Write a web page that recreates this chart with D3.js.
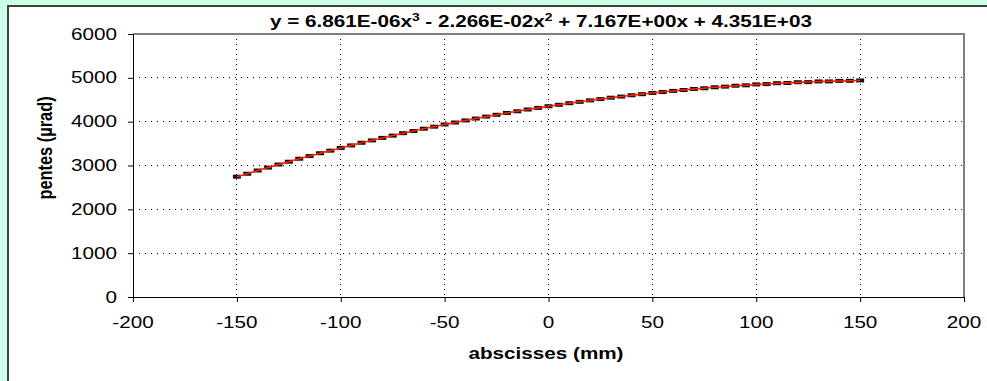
<!DOCTYPE html>
<meta charset="utf-8">
<style>

html, body {
  margin: 0;
  overflow: hidden;
  background: #ccffe6;
}

svg {
  position: absolute;
  left: 0;
  top: 0;
  display: block;
  font-family: "Liberation Sans", Arial, sans-serif;
}

.grid line {
  stroke: #000;
  stroke-width: 1px;
  shape-rendering: crispEdges;
}

.tick-label {
  font-size: 16.4px;
  fill: #000;
}

.axis-title {
  font-size: 16.4px;
  font-weight: bold;
}

</style>

<svg width="987" height="381"></svg>

<script src="https://d3js.org/d3.v7.min.js"></script>
<script>

// positions along the beam (mm)
var abscisses = [-150, -145, -140, -135, -130, -125, -120, -115, -110, -105,
  -100, -95, -90, -85, -80, -75, -70, -65, -60, -55,
  -50, -45, -40, -35, -30, -25, -20, -15, -10, -5,
  0, 5, 10, 15, 20, 25, 30, 35, 40, 45,
  50, 55, 60, 65, 70, 75, 80, 85, 90, 95,
  100, 105, 110, 115, 120, 125, 130, 135, 140, 145, 150];

// measured slopes (µrad)
var pentes = [2745, 2812, 2886, 2952, 3022, 3086, 3154, 3215, 3280, 3339,
  3402, 3458, 3519, 3572, 3630, 3682, 3737, 3786, 3839, 3886,
  3936, 3981, 4028, 4071, 4116, 4157, 4199, 4237, 4278, 4314,
  4352, 4385, 4421, 4452, 4486, 4515, 4547, 4573, 4603, 4627,
  4655, 4676, 4702, 4722, 4746, 4762, 4785, 4799, 4820, 4830,
  4850, 4858, 4878, 4882, 4900, 4902, 4918, 4918, 4930, 4932, 4940];

var xTicks = [-200, -150, -100, -50, 0, 50, 100, 150, 200];
var yTicks = [0, 1000, 2000, 3000, 4000, 5000, 6000];

// title pieces: [text, superscript]
var titleParts = [
  ["y = 6.861E-06x", "3"],
  [" - 2.266E-02x", "2"],
  [" + 7.167E+00x + 4.351E+03", ""]
];

var data = abscisses.map(function(d, i) { return {x: d, y: pentes[i]}; });

var svg = d3.select("svg"),
    plot = {left: 133, right: 964, top: 34, bottom: 297},
    sx = 1.26; // the excel picture is stretched sideways

// chart area
svg.append("rect")
    .attr("x", 8)
    .attr("y", 6)
    .attr("width", 1000)
    .attr("height", 400)
    .attr("fill", "#fff")
    .attr("stroke", "#404040")
    .attr("stroke-width", 2);

var x = d3.scaleLinear().domain([-200, 200]).range([plot.left, plot.right]),
    y = d3.scaleLinear().domain([0, 6000]).range([plot.bottom, plot.top]);

// gridlines
var grid = svg.append("g").attr("class", "grid");

grid.selectAll(".hgrid")
  .data(yTicks.filter(function(d) { return d > 0 && d < 6000; }))
  .enter().append("line")
    .attr("x1", plot.left)
    .attr("x2", plot.right)
    .attr("y1", function(d) { return y(d); })
    .attr("y2", function(d) { return y(d); })
    .attr("stroke-dasharray", "1,5");

grid.selectAll(".vgrid")
  .data(xTicks.filter(function(d) { return d > -200 && d < 200; }))
  .enter().append("line")
    .attr("x1", function(d) { return x(d); })
    .attr("x2", function(d) { return x(d); })
    .attr("y1", plot.top)
    .attr("y2", plot.bottom)
    .attr("stroke-dasharray", "1,4");

// plot area border (top and right)
svg.append("path")
    .attr("d", "M" + plot.left + "," + plot.top + "H" + plot.right + "V" + plot.bottom)
    .attr("fill", "none")
    .attr("stroke", "#808080")
    .attr("stroke-width", 2);

// axes
svg.append("g")
    .attr("transform", "translate(0," + plot.bottom + ")")
    .call(d3.axisBottom(x).tickValues(xTicks).tickSize(5).tickFormat(""))
    .call(function(g) { g.selectAll("path, line").attr("stroke", "#000"); });

svg.append("g")
    .attr("transform", "translate(" + plot.left + ",0)")
    .call(d3.axisLeft(y).tickValues(yTicks).tickSize(5).tickFormat(""))
    .call(function(g) { g.selectAll("path, line").attr("stroke", "#000"); });

// tick labels, stretched like the original
svg.selectAll(".xlab")
  .data(xTicks)
  .enter().append("text")
    .attr("class", "tick-label")
    .attr("text-anchor", "middle")
    .attr("transform", function(d) { return "translate(" + x(d) + ",328) scale(" + sx + ",1)"; })
    .text(function(d) { return d; });

svg.selectAll(".ylab")
  .data(yTicks)
  .enter().append("text")
    .attr("class", "tick-label")
    .attr("text-anchor", "end")
    .attr("transform", function(d) { return "translate(117," + (y(d) + 5.5) + ") scale(" + sx + ",1)"; })
    .text(function(d) { return d; });

// axis titles
svg.append("text")
    .attr("class", "axis-title")
    .attr("text-anchor", "middle")
    .attr("transform", "translate(546,359) scale(" + sx + ",1)")
    .text("abscisses (mm)");

svg.append("text")
    .attr("class", "axis-title")
    .attr("text-anchor", "middle")
    .attr("transform", "translate(52,148) scale(" + sx + ",1) rotate(-90)")
    .text("pentes (µrad)");

// equation title
var title = svg.append("text")
    .attr("class", "axis-title")
    .attr("text-anchor", "middle")
    .attr("transform", "translate(541,27) scale(" + sx + ",1)");

var shift = 0;
titleParts.forEach(function(p) {
  title.append("tspan").attr("dy", shift).text(p[0]);
  shift = 0;
  if (p[1]) {
    title.append("tspan")
        .attr("dy", -6)
        .style("font-size", "11px")
        .text(p[1]);
    shift = 6;
  }
});

// measured points: black dash markers
svg.append("g")
  .selectAll("rect")
  .data(data)
  .enter().append("rect")
    .attr("x", function(d) { return x(d.x) - 4; })
    .attr("y", function(d) { return y(d.y) - 2; })
    .attr("width", 8)
    .attr("height", 4)
    .attr("fill", "#111");

// trend curve in red
var line = d3.line()
    .curve(d3.curveBasis)
    .x(function(d) { return x(d.x); })
    .y(function(d) { return y(d.y); });

svg.append("path")
    .datum(data)
    .attr("d", line)
    .attr("fill", "none")
    .attr("stroke", "#ff2000")
    .attr("stroke-width", 1.6);

</script>
